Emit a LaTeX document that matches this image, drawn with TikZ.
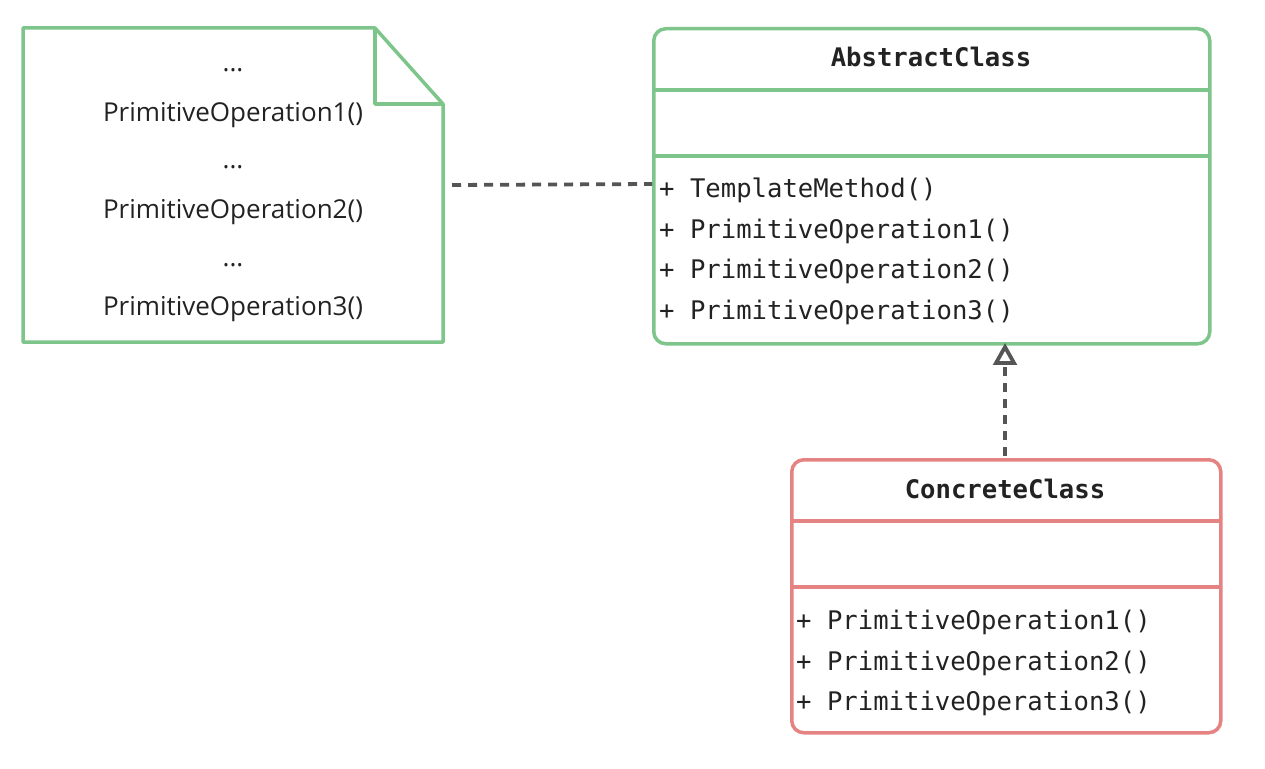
\documentclass[tikz,border=0pt]{standalone}
\usepackage{fontspec}
\setmainfont{Open Sans}
\newfontfamily\monof{DejaVu Sans Mono}
\definecolor{gr}{HTML}{7DC58A}
\definecolor{rd}{HTML}{E58383}
\definecolor{dk}{HTML}{555555}
\definecolor{tx}{HTML}{222222}
\begin{document}
\begin{tikzpicture}[x=1pt,y=-1pt,
  box/.style={draw=#1, line width=3.5pt, rounded corners=12pt, anchor=north west, inner sep=0pt},
  sep/.style={draw=#1, line width=3.5pt},
  mth/.style={anchor=west, inner sep=0pt, font=\monof\fontsize{25.6}{30}\selectfont, text=tx},
  ttl/.style={inner sep=0pt, font=\monof\bfseries\fontsize{25.6}{30}\selectfont, text=tx},
  nt/.style={inner sep=0pt, font=\fontsize{26}{30}\selectfont, text=tx},
  dsh/.style={draw=dk, line width=3.8pt, dash pattern=on 9pt off 7pt},
  tip/.style={draw=dk, line width=3.8pt, line join=miter, fill=white}]
\useasboundingbox (0,0) rectangle (1265,768);
% note
\draw[gr, line width=3.5pt, line join=round] (23,28) -- (375,28) -- (443,104) -- (443,342) -- (23,342) -- cycle;
\draw[gr, line width=3.5pt, line join=round] (375,28) -- (375,104) -- (443,104);
\coordinate (noteR) at (452,185);
\node[nt] (n1) at (233,70) {...};
\node[nt] (n2) at (233,115) {PrimitiveOperation1()};
\node[nt] (n3) at (233,167) {...};
\node[nt] (n4) at (233,212) {PrimitiveOperation2()};
\node[nt] (n5) at (233,265) {...};
\node[nt] (n6) at (233,309) {PrimitiveOperation3()};
% abstract class
\node[box=gr, minimum width=556pt, minimum height=315pt] (abs) at (652,27) {};
\draw[sep=gr] (652,90) -- (1208,90);
\draw[sep=gr] (652,156) -- (1208,156);
\node[ttl] (absT) at (931,57) {AbstractClass};
\node[mth] (a1) at (659,190) {+ TemplateMethod()};
\node[mth] (a2) at (659,231) {+ PrimitiveOperation1()};
\node[mth] (a3) at (659,271) {+ PrimitiveOperation2()};
\node[mth] (a4) at (659,312) {+ PrimitiveOperation3()};
% concrete class
\node[box=rd, minimum width=429pt, minimum height=273pt] (con) at (790,458) {};
\draw[sep=rd] (790,521) -- (1219,521);
\draw[sep=rd] (790,587) -- (1219,587);
\node[ttl] (conT) at (1005,489) {ConcreteClass};
\node[mth] (c1) at (796,622) {+ PrimitiveOperation1()};
\node[mth] (c2) at (796,663) {+ PrimitiveOperation2()};
\node[mth] (c3) at (796,703) {+ PrimitiveOperation3()};
% connectors
\coordinate (absL) at (652,184);
\draw[dsh] (noteR) -- (absL);
\coordinate (conTop) at (1005,456);
\coordinate (tipBase) at (1005,363);
\coordinate (absBot) at (1005,347);
\draw[dsh] (conTop) -- (tipBase);
\draw[tip] (absBot) -- ([xshift=-9pt]tipBase) -- ([xshift=9pt]tipBase) -- cycle;
\end{tikzpicture}
\end{document}
